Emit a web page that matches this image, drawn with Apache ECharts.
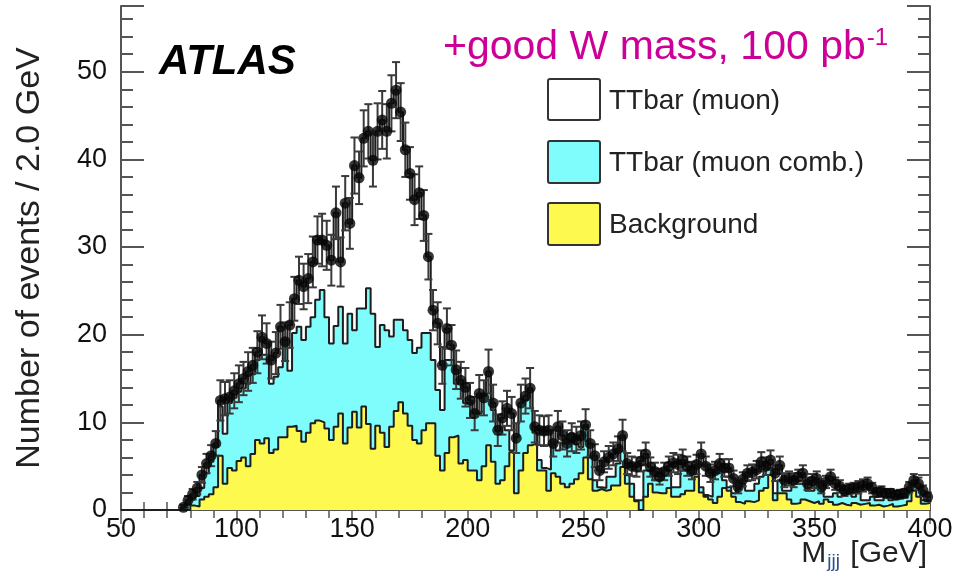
<!DOCTYPE html>
<html>
<head>
<meta charset="utf-8">
<script src="https://cdn.jsdelivr.net/npm/echarts@6/dist/echarts.min.js"></script>
<style>
  html, body { margin: 0; padding: 0; background: #fff; }
  #main { width: 963px; height: 584px; }
</style>
</head>
<body>
<div id="main"></div>
<script>
// binning: 175 bins of 2 GeV from 50 to 400
const xMin = 50;
const xMax = 400;
const binWidth = 2;
const yTicks = [0, 10, 20, 30, 40, 50];

// yellow: Background (top of stack)
const bkgTop = [
  0, 0, 0, 0, 0, 0, 0, 0, 0, 0,
  0, 0, 0, 0, 0, 0.5, 0.4, 1.2, 1.5, 1.8,
  2.6, 6.2, 3.0, 4.8, 4.5, 5.6, 6.0, 5.0, 6.4, 8.0,
  7.6, 8.2, 6.5, 6.9, 8.3, 8.3, 9.5, 9.6, 9.0, 7.8,
  8.8, 9.9, 10.2, 10.0, 9.3, 8.0, 9.5, 11.0, 7.6, 9.4,
  11.2, 9.4, 11.8, 9.8, 7.0, 9.6, 8.8, 7.2, 9.5, 11.3,
  12.3, 11.0, 9.6, 8.0, 7.6, 9.1, 9.9, 9.9, 6.2, 4.5,
  6.5, 8.3, 8.5, 5.3, 5.7, 4.5, 4.5, 3.4, 5.0, 7.4,
  5.5, 3.0, 3.4, 5.0, 6.6, 1.9, 4.5, 6.5, 7.4, 7.6,
  4.5, 4.5, 2.2, 4.2, 3.8, 3.0, 2.6, 3.0, 3.5, 4.2,
  6.0, 3.5, 2.2, 2.4, 2.2, 2.3, 2.8, 2.8, 4.9, 3.0,
  1.5, 1.0, 0.0, 1.5, 3.0, 2.0, 1.9, 1.9, 2.5, 1.5,
  1.5, 1.8, 2.2, 2.2, 3.8, 2.0, 1.5, 1.2, 0.8, 1.5,
  2.5, 2.2, 1.5, 0.9, 0.7, 1.0, 0.9, 1.1, 2.2, 2.5,
  4.0, 1.1, 1.9, 1.9, 1.2, 0.7, 0.8, 1.2, 1.0, 0.8,
  1.0, 0.7, 1.2, 0.9, 0.6, 0.8, 0.6, 0.5, 0.8, 0.6,
  0.7, 0.8, 0.5, 0.6, 0.4, 0.5, 0.7, 0.4, 0.5, 0.6,
  1.0, 2.2, 1.5, 0.7, 0.8
];

// cyan: TTbar (muon comb.) stacked on background
const combTop = [
  0, 0, 0, 0, 0, 0, 0, 0, 0, 0,
  0, 0, 0, 0.3, 0.7, 1.2, 1.6, 2.5, 4.2, 5.5,
  7.2, 11.8, 8.7, 12.2, 12.8, 13.5, 13.9, 14.4, 15.5, 17.1,
  17.7, 17.7, 14.4, 15.2, 16.3, 19.4, 15.9, 20.2, 20.9, 19.4,
  20.9, 22.0, 24.0, 25.1, 22.0, 19.0, 21.0, 23.2, 19.0, 22.4,
  20.5, 23.0, 23.0, 25.3, 22.4, 18.6, 21.1, 20.5, 19.8, 21.7,
  21.7, 20.5, 19.4, 17.9, 18.5, 20.2, 20.2, 17.1, 13.7, 11.4,
  17.1, 17.1, 14.4, 14.8, 12.2, 12.2, 11.0, 11.0, 13.0, 15.2,
  11.4, 9.0, 9.5, 9.1, 6.8, 8.3, 12.2, 12.5, 13.7, 8.8,
  5.7, 4.8, 4.6, 7.5, 6.8, 7.6, 7.6, 8.7, 7.5, 7.2,
  9.5, 6.0, 3.4, 2.6, 2.5, 3.8, 3.8, 5.3, 8.3, 4.0,
  3.0, 1.1, 1.1, 4.5, 4.5, 3.4, 3.4, 4.5, 4.5, 2.6,
  2.6, 4.5, 4.5, 4.2, 5.0, 2.6, 1.7, 1.5, 4.2, 4.6,
  3.4, 2.6, 1.9, 2.4, 3.0, 2.2, 2.2, 3.0, 3.8, 4.8,
  4.8, 1.9, 3.4, 2.2, 2.2, 3.4, 3.0, 3.0, 2.2, 2.2,
  3.0, 2.5, 1.5, 1.5, 1.9, 1.5, 1.9, 1.9, 1.5, 1.9,
  1.1, 1.1, 1.5, 1.1, 1.1, 1.5, 1.1, 1.5, 1.5, 1.5,
  2.0, 3.0, 2.5, 1.1, 1.1
];

// white: TTbar (muon), top of the full stack
const muonTop = [
  0, 0, 0, 0, 0, 0, 0, 0, 0, 0,
  0, 0, 0, 0.3, 1.1, 1.8, 2.5, 4.0, 5.3, 6.2,
  7.6, 12.5, 12.7, 12.9, 13.6, 14.4, 15.0, 15.8, 16.5, 18.0,
  19.7, 19.0, 17.1, 17.9, 20.9, 19.4, 21.1, 24.1, 26.2, 25.5,
  26.4, 28.3, 30.8, 30.8, 30.2, 28.5, 33.9, 28.3, 35.0, 32.7,
  39.3, 37.9, 42.4, 43.2, 39.9, 43.2, 44.5, 43.2, 46.4, 47.9,
  45.4, 41.1, 38.4, 35.4, 36.2, 33.6, 28.9, 22.8, 21.3, 16.5,
  20.7, 18.8, 16.0, 14.8, 14.0, 12.5, 11.0, 13.3, 12.8, 15.8,
  12.2, 9.1, 10.5, 11.6, 11.0, 8.3, 12.2, 13.0, 13.9, 9.5,
  9.1, 9.0, 9.1, 7.6, 9.5, 8.5, 7.6, 8.7, 8.0, 8.5,
  9.7, 7.6, 6.2, 4.5, 5.5, 6.0, 6.4, 7.0, 8.5, 5.3,
  5.0, 4.9, 5.6, 6.4, 4.9, 4.4, 3.8, 4.4, 5.0, 5.4,
  5.2, 5.7, 5.0, 4.5, 5.2, 6.4, 5.0, 4.2, 4.5, 5.3,
  4.8, 4.8, 3.6, 2.6, 3.5, 4.2, 4.3, 4.6, 5.5, 5.0,
  5.7, 4.2, 5.1, 3.4, 3.6, 3.4, 3.8, 4.2, 3.0, 3.3,
  3.6, 2.6, 3.2, 3.8, 3.0, 2.7, 2.2, 2.4, 2.5, 2.6,
  2.8, 3.0, 2.5, 2.0, 2.1, 1.9, 1.9, 1.7, 1.8, 1.9,
  2.6, 3.4, 3.0, 2.2, 1.5
];

// black points with error bars
const dataVals = [
  0, 0, 0, 0, 0, 0, 0, 0, 0, 0,
  0, 0, 0, 0.3, 1.1, 1.8, 2.5, 4.0, 5.3, 6.2,
  7.6, 12.5, 12.7, 12.9, 13.6, 14.4, 15.0, 15.8, 16.5, 18.0,
  19.7, 19.0, 17.1, 17.9, 20.9, 19.2, 21.1, 24.1, 26.2, 25.5,
  26.4, 28.3, 30.8, 30.8, 30.2, 28.5, 33.9, 28.3, 35.0, 32.7,
  39.3, 37.9, 42.4, 43.2, 39.9, 43.2, 44.5, 43.2, 46.4, 47.9,
  45.4, 41.1, 38.4, 35.4, 36.2, 33.6, 28.9, 22.8, 21.3, 16.5,
  20.7, 18.8, 16.0, 14.8, 14.0, 12.5, 11.0, 13.3, 12.8, 15.8,
  12.2, 9.1, 10.5, 11.6, 11.0, 8.2, 12.2, 13.0, 13.9, 9.5,
  9.1, 9.0, 9.1, 7.6, 9.5, 8.5, 7.6, 8.3, 8.0, 8.5,
  9.7, 7.6, 6.2, 4.5, 5.5, 6.0, 6.4, 7.0, 8.5, 5.3,
  5.0, 4.9, 5.6, 6.4, 4.9, 4.4, 3.8, 4.4, 5.0, 5.4,
  5.2, 5.7, 5.0, 4.5, 5.2, 6.4, 5.0, 4.2, 4.5, 5.3,
  4.8, 4.8, 3.6, 2.6, 3.5, 4.2, 4.3, 4.6, 5.5, 5.0,
  5.7, 4.2, 5.1, 3.4, 3.6, 3.4, 3.8, 4.2, 3.0, 3.3,
  3.6, 2.6, 3.2, 3.8, 3.0, 2.7, 2.2, 2.4, 2.5, 2.6,
  2.8, 3.0, 2.5, 2.0, 2.1, 1.9, 1.9, 1.7, 1.8, 1.9,
  2.6, 3.4, 3.0, 2.2, 1.5
];

const dataErr = [
  0, 0, 0, 0, 0, 0, 0, 0, 0, 0,
  0, 0, 0, 0.3, 0.5, 0.6, 0.7, 0.9, 1.1, 1.2,
  1.4, 2.3, 1.9, 1.9, 2.0, 2.1, 1.9, 2.2, 2.0, 2.4,
  2.5, 2.3, 2.1, 2.4, 2.5, 2.2, 2.6, 2.5, 2.7, 2.6,
  2.8, 2.9, 2.7, 3.0, 2.8, 2.9, 3.0, 2.8, 3.1, 2.9,
  3.2, 3.0, 3.2, 3.1, 3.0, 3.2, 3.3, 3.1, 3.2, 3.2,
  3.3, 3.1, 3.0, 2.9, 3.0, 2.9, 2.6, 2.3, 2.4, 2.1,
  2.3, 2.3, 2.2, 2.1, 2.2, 2.0, 1.9, 2.1, 2.0, 2.5,
  2.1, 1.8, 1.9, 2.0, 1.9, 1.7, 2.1, 2.0, 2.3, 1.8,
  1.7, 1.7, 1.7, 1.5, 1.8, 1.6, 1.5, 1.6, 1.5, 1.6,
  1.8, 1.5, 1.3, 1.1, 1.2, 1.3, 1.3, 1.4, 1.8, 1.2,
  1.1, 1.1, 1.2, 1.3, 1.1, 1.0, 0.9, 1.0, 1.1, 1.1,
  1.1, 1.2, 1.1, 1.0, 1.1, 1.3, 1.1, 1.0, 1.0, 1.1,
  1.0, 1.0, 0.9, 0.7, 0.8, 0.9, 0.9, 1.0, 1.1, 1.0,
  1.1, 0.9, 1.0, 0.8, 0.8, 0.8, 0.8, 0.9, 0.7, 0.8,
  0.8, 0.7, 0.7, 0.8, 0.7, 0.7, 0.6, 0.6, 0.6, 0.7,
  0.7, 0.7, 0.6, 0.5, 0.6, 0.5, 0.5, 0.5, 0.5, 0.5,
  0.6, 0.7, 0.7, 0.6, 0.5
];

const legendItems = ["TTbar (muon)", "TTbar (muon comb.)", "Background"];
const fillColors = ["#ffffff", "#7ffcfc", "#fdf94e"];
const edgeColor = "#1e1e1e";
const fontFam = "Liberation Sans, Arial, sans-serif";

// step line points: left edge of each bin plus the closing right edge
function stepPoints(vals) {
  var pts = [];
  for (var i = 0; i < vals.length; i++) {
    pts.push([xMin + i * binWidth, vals[i]]);
  }
  pts.push([xMin + vals.length * binWidth, vals[vals.length - 1]]);
  return pts;
}

var points = [];
var bars = [];
for (var i = 0; i < dataVals.length; i++) {
  if (dataVals[i] <= 0) continue;
  var c = xMin + (i + 0.5) * binWidth;
  points.push([c, dataVals[i]]);
  bars.push([c, dataVals[i] - dataErr[i], dataVals[i] + dataErr[i]]);
}

function histSeries(name, vals, fill, z) {
  return {
    name: name,
    type: "line",
    step: "end",
    data: stepPoints(vals),
    symbol: "none",
    z: z,
    silent: true,
    lineStyle: { color: edgeColor, width: 2 },
    areaStyle: { color: fill, opacity: 1 },
  };
}

var chart = echarts.init(document.getElementById("main"));

var axisFont = { fontFamily: fontFam, fontSize: 27, color: "#111" };
var axisLine = { show: true, lineStyle: { color: "#555", width: 2 } };
var xTick = { show: true, inside: true, length: 14, lineStyle: { color: "#555", width: 1.5 } };
var xMinor = { show: true, splitNumber: 5, length: 8, lineStyle: { color: "#555", width: 1.5 } };
var yTick = { show: true, inside: true, length: 23, lineStyle: { color: "#555", width: 2 } };
var yMinor = { show: true, splitNumber: 5, length: 12, lineStyle: { color: "#555", width: 2 } };

var option = {
  backgroundColor: "#fff",
  animation: false,
  grid: { left: 121, right: 33, top: 6, bottom: 74, containLabel: false },
  xAxis: [
    {
      type: "value",
      min: xMin,
      max: xMax,
      interval: 50,
      axisLine: axisLine,
      axisTick: xTick,
      minorTick: xMinor,
      splitLine: { show: false },
      axisLabel: Object.assign({ margin: 6 }, axisFont),
    },
    {
      type: "value",
      position: "top",
      min: xMin,
      max: xMax,
      interval: 50,
      axisLine: axisLine,
      axisTick: xTick,
      minorTick: xMinor,
      splitLine: { show: false },
      axisLabel: { show: false },
    },
  ],
  yAxis: [
    {
      type: "value",
      min: yTicks[0],
      max: 57.5,
      interval: 10,
      name: "Number of events / 2.0 GeV",
      nameLocation: "middle",
      nameGap: 74,
      nameTextStyle: { fontFamily: fontFam, fontSize: 34, color: "#222" },
      axisLine: axisLine,
      axisTick: yTick,
      minorTick: yMinor,
      splitLine: { show: false },
      axisLabel: Object.assign({ margin: 14, showMaxLabel: false }, axisFont),
    },
    {
      type: "value",
      position: "right",
      min: yTicks[0],
      max: 57.5,
      interval: 10,
      axisLine: axisLine,
      axisTick: yTick,
      minorTick: yMinor,
      splitLine: { show: false },
      axisLabel: { show: false },
    },
  ],
  series: [
    histSeries(legendItems[0], muonTop, fillColors[0], 2),
    histSeries(legendItems[1], combTop, fillColors[1], 3),
    histSeries(legendItems[2], bkgTop, fillColors[2], 4),
    {
      name: "errors",
      type: "custom",
      z: 5,
      silent: true,
      data: bars,
      renderItem: function (params, api) {
        var lo = api.coord([api.value(0), api.value(1)]);
        var hi = api.coord([api.value(0), api.value(2)]);
        var cap = 4;
        var st = { stroke: "#3a3a3a", lineWidth: 2 };
        return {
          type: "group",
          children: [
            { type: "line", shape: { x1: lo[0], y1: lo[1], x2: hi[0], y2: hi[1] }, style: st },
            { type: "line", shape: { x1: hi[0] - cap, y1: hi[1], x2: hi[0] + cap, y2: hi[1] }, style: st },
            { type: "line", shape: { x1: lo[0] - cap, y1: lo[1], x2: lo[0] + cap, y2: lo[1] }, style: st },
          ],
        };
      },
    },
    {
      name: "data",
      type: "scatter",
      z: 6,
      silent: true,
      data: points,
      symbol: "circle",
      symbolSize: 11,
      itemStyle: { color: "#050505" },
    },
  ],
  graphic: [
    {
      type: "text",
      left: 159,
      top: 41,
      style: { text: "ATLAS", font: "italic bold 42px " + fontFam, fill: "#000" },
    },
    {
      type: "text",
      left: 443,
      top: 26,
      style: {
        text: "{m|+good W mass, 100 pb}{s|-1}",
        rich: {
          m: { font: "41px " + fontFam, fill: "#cc0099", verticalAlign: "bottom" },
          s: { font: "24px " + fontFam, fill: "#cc0099", verticalAlign: "top", padding: [0, 0, 18, 1] },
        },
      },
    },
    { type: "rect", shape: { x: 548, y: 79, width: 52, height: 41, r: 2 }, style: { fill: fillColors[0], stroke: "#333", lineWidth: 2 } },
    { type: "rect", shape: { x: 548, y: 141, width: 52, height: 42, r: 2 }, style: { fill: fillColors[1], stroke: "#333", lineWidth: 2 } },
    { type: "rect", shape: { x: 548, y: 203, width: 52, height: 42, r: 2 }, style: { fill: fillColors[2], stroke: "#333", lineWidth: 2 } },
    { type: "text", left: 609, top: 87, style: { text: legendItems[0], font: "28px " + fontFam, fill: "#222" } },
    { type: "text", left: 609, top: 149, style: { text: legendItems[1], font: "28px " + fontFam, fill: "#222" } },
    { type: "text", left: 609, top: 211, style: { text: legendItems[2], font: "28px " + fontFam, fill: "#222" } },
    {
      type: "text",
      right: 36,
      top: 539,
      style: {
        text: "{m|M}{s|jjj}{m| [GeV]}",
        rich: {
          m: { font: "30px " + fontFam, fill: "#222" },
          s: { font: "19px " + fontFam, fill: "#2b4f8f", padding: [15, 2, 0, 1] },
        },
      },
    },
  ],
};

chart.setOption(option);
</script>
</body>
</html>
